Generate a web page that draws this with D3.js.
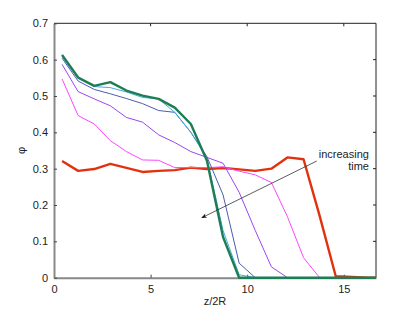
<!DOCTYPE html>
<html>
<head>
<meta charset="utf-8">
<script src="https://cdn.jsdelivr.net/npm/d3@7"></script>
<style>
  body { margin: 0; background: #fff; }
  text { font-family: "Liberation Sans", Arial, sans-serif; }
</style>
</head>
<body>
<div id="chart-area"></div>
<script>
// sample positions: bin centres (20 bins of width 1/1.2), plus the right edge
const zValues = d3.range(20).map(i => (i + 0.5) / 1.2).concat([50 / 3]);

const phiT0 = [0.321, 0.294, 0.299, 0.313, 0.302, 0.291, 0.294, 0.296, 0.303, 0.299, 0.302, 0.298, 0.294, 0.300, 0.331, 0.326, 0.17, 0.004, 0.002, 0, 0];
const phiT1 = [0.547, 0.446, 0.423, 0.377, 0.347, 0.324, 0.323, 0.303, 0.303, 0.303, 0.305, 0.293, 0.283, 0.262, 0.168, 0.055, 0, 0, 0, 0, 0];
const phiT2 = [0.587, 0.512, 0.492, 0.473, 0.441, 0.428, 0.393, 0.372, 0.347, 0.331, 0.315, 0.235, 0.13, 0.03, 0, 0, 0, 0, 0, 0, 0];
const phiT3 = [0.604, 0.541, 0.518, 0.506, 0.493, 0.479, 0.46, 0.455, 0.40, 0.333, 0.228, 0.04, 0, 0, 0, 0, 0, 0, 0, 0, 0];
const phiT4 = [0.608, 0.548, 0.526, 0.523, 0.511, 0.496, 0.492, 0.455, 0.40, 0.328, 0.13, 0.008, 0, 0, 0, 0, 0, 0, 0, 0, 0];
const phiT5 = [0.613, 0.551, 0.528, 0.538, 0.515, 0.501, 0.492, 0.468, 0.423, 0.322, 0.112, 0, 0, 0, 0, 0, 0, 0, 0, 0, 0];

const xTicks = [0, 5, 10, 15];
const yTicks = [0, 0.1, 0.2, 0.3, 0.4, 0.5, 0.6, 0.7];

const series = [
  {values: phiT0, color: "#e2310e", width: 2.4},
  {values: phiT1, color: "#ff45ff", width: 1},
  {values: phiT2, color: "#9b45f5", width: 1},
  {values: phiT3, color: "#4c5cae", width: 1},
  {values: phiT4, color: "#3caee0", width: 1},
  {values: phiT5, color: "#1f7d55", width: 2.4}
];

const margin = {left: 54, right: 39, top: 23.3, bottom: 35.3};
const W = 415, H = 313;
const width = W - margin.left - margin.right;
const height = H - margin.top - margin.bottom;

let svg = d3.select("#chart-area")
  .append("svg")
  .attr("width", W)
  .attr("height", H)
  .append("g")
  .attr("transform", `translate(${margin.left}, ${margin.top})`);

let x = d3.scaleLinear().domain([0, 50 / 3]).range([0, width]);
let y = d3.scaleLinear().domain([0, 0.7]).range([height, 0]);

// frame: top/right thin dark
svg.append("line").attr("x1", 0).attr("x2", width).attr("y1", 0).attr("y2", 0)
  .attr("stroke", "#222").attr("stroke-width", 1);
svg.append("line").attr("x1", width).attr("x2", width).attr("y1", 0).attr("y2", height)
  .attr("stroke", "#222").attr("stroke-width", 1);

// inward ticks on top and right
svg.selectAll(".ttick").data(xTicks.filter(d => d > 0)).enter().append("line")
  .attr("x1", d => x(d)).attr("x2", d => x(d)).attr("y1", 0).attr("y2", 3)
  .attr("stroke", "#222");
svg.selectAll(".rtick").data(yTicks.filter(d => d > 0 && d < 0.7)).enter().append("line")
  .attr("x1", width - 3).attr("x2", width).attr("y1", d => y(d)).attr("y2", d => y(d))
  .attr("stroke", "#222");

// bottom axis
let xAxis = d3.axisBottom(x).tickValues(xTicks).tickSizeInner(-3).tickSizeOuter(0).tickPadding(8);
let gx = svg.append("g")
  .attr("transform", "translate(0," + height + ")")
  .call(xAxis);
gx.select(".domain").attr("stroke", "#888").attr("stroke-width", 2);
gx.selectAll(".tick line").attr("stroke", "#444");
gx.selectAll("text").attr("font-size", "11px").attr("fill", "#222");

// left axis
let yAxis = d3.axisLeft(y).tickValues(yTicks).tickFormat(d => d === 0 ? "0" : d3.format(".1f")(d))
  .tickSizeInner(-3).tickSizeOuter(0).tickPadding(6);
let gy = svg.append("g").call(yAxis);
gy.select(".domain").attr("stroke", "#888").attr("stroke-width", 2);
gy.selectAll(".tick line").attr("stroke", "#444");
gy.selectAll("text").attr("font-size", "11px").attr("fill", "#222");

// lines
let line = d3.line().x((d, i) => x(zValues[i])).y(d => y(d));
series.forEach(s => {
  svg.append("path")
    .datum(s.values)
    .attr("d", line)
    .attr("fill", "none")
    .attr("stroke", s.color)
    .attr("stroke-width", s.width)
    .attr("stroke-linejoin", "round");
});

// annotation arrow
svg.append("defs").append("marker")
  .attr("id", "head")
  .attr("viewBox", "0 0 10 10")
  .attr("refX", 9).attr("refY", 5)
  .attr("markerWidth", 9).attr("markerHeight", 7)
  .attr("orient", "auto")
  .append("path").attr("d", "M0,1 L10,5 L0,9 L3,5 Z").attr("fill", "#111");

svg.append("line")
  .attr("x1", x(13.6)).attr("y1", y(0.321))
  .attr("x2", x(7.65)).attr("y2", y(0.165))
  .attr("stroke", "#333").attr("stroke-width", 0.8)
  .attr("marker-end", "url(#head)");

svg.append("text")
  .attr("x", x(16.3)).attr("y", y(0.328))
  .attr("text-anchor", "end").attr("font-size", "11px").attr("fill", "#222")
  .text("increasing");
svg.append("text")
  .attr("x", x(16.3)).attr("y", y(0.295))
  .attr("text-anchor", "end").attr("font-size", "11px").attr("fill", "#222")
  .text("time");

// x label
svg.append("text")
  .attr("x", width / 2).attr("y", height + 27)
  .attr("text-anchor", "middle").attr("font-size", "11px").attr("fill", "#222")
  .text("z/2R");

// y label
svg.append("text")
  .attr("transform", "rotate(-90)")
  .attr("x", -y(0.35)).attr("y", -29)
  .attr("text-anchor", "middle").attr("font-size", "11px").attr("fill", "#222")
  .text("φ");
</script>
</body>
</html>
